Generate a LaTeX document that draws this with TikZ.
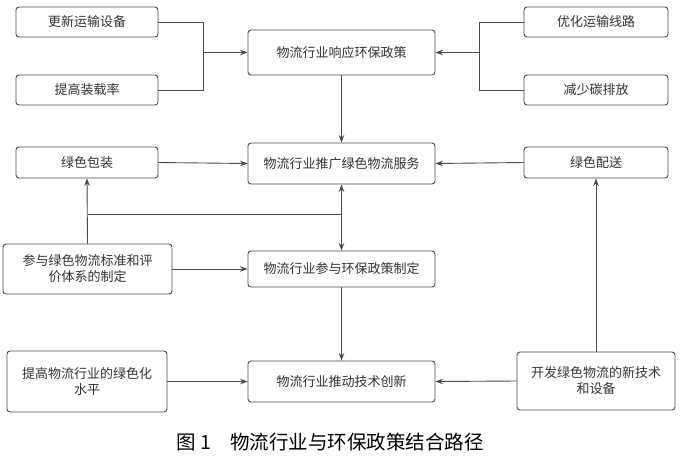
\documentclass[tikz,border=0pt]{standalone}
\usepackage{fontspec}
\setmainfont{Noto Sans CJK SC}
\usetikzlibrary{arrows.meta}
\definecolor{boxline}{HTML}{4A4A4A}
\definecolor{boxtext}{HTML}{333333}
\begin{document}
\begin{tikzpicture}[x=1pt,y=-1pt,
    stagebox/.style={draw=boxline,line width=0.9pt,rounded corners=3pt,
      fill=white,text=boxtext,align=center,inner sep=0pt,
      font=\fontsize{13}{16}\selectfont},
    link/.style={draw=boxline,line width=0.9pt,
      -{Stealth[length=7.5pt,width=5.5pt]}}]
      \useasboundingbox (0,0) rectangle (700,456);
      % top row
      \node[stagebox,minimum width=142pt,minimum height=30pt] (renew) at (87,22) {更新运输设备};
      \node[stagebox,minimum width=142pt,minimum height=30pt] (load) at (87,90) {提高装载率};
      \node[stagebox,minimum width=187pt,minimum height=45pt] (respond) at (341.5,52.5) {物流行业响应环保政策};
      \node[stagebox,minimum width=144pt,minimum height=30pt] (route) at (596,22) {优化运输线路};
      \node[stagebox,minimum width=144pt,minimum height=30pt] (carbon) at (596,90) {减少碳排放};
      % second row
      \node[stagebox,minimum width=142pt,minimum height=31pt] (pack) at (87,162.5) {绿色包装};
      \node[stagebox,minimum width=187pt,minimum height=41pt] (service) at (341.5,163.5) {物流行业推广绿色物流服务};
      \node[stagebox,minimum width=144pt,minimum height=31pt] (deliver) at (596,162.5) {绿色配送};
      % third row
      \node[stagebox,minimum width=169pt,minimum height=50pt] (standard) at (87.5,269) {参与绿色物流标准和评\\价体系的制定};
      \node[stagebox,minimum width=187pt,minimum height=36pt] (policy) at (341.5,269) {物流行业参与环保政策制定};
      % bottom row
      \node[stagebox,minimum width=160pt,minimum height=61pt] (level) at (87,381.5) {提高物流行业的绿色化\\水平};
      \node[stagebox,minimum width=187pt,minimum height=41pt] (innovate) at (341.5,381.5) {物流行业推动技术创新};
      \node[stagebox,minimum width=158pt,minimum height=58pt] (develop) at (596,381) {开发绿色物流的新技术\\和设备};
      \node[font=\fontsize{19.5}{22}\selectfont,text=black] (caption) at (330,442) {图 1　物流行业与环保政策结合路径};
      \coordinate (jleft) at (203,52.5);
      \coordinate (jright) at (479,52.5);
      \coordinate (jmid) at (341.5,214);
      \begin{scope}[draw=boxline,line width=0.9pt]
        \draw (renew.east) -| (jleft);
        \draw (load.east) -| (jleft);
        \draw[link] (jleft) -- (respond.west);
        \draw (route.west) -| (jright);
        \draw (carbon.west) -| (jright);
        \draw[link] (jright) -- (respond.east);
        \draw[link] (respond.south) -- (service.north);
        \draw[link] (pack.east) -- (service.west);
        \draw[link] (deliver.west) -- (service.east);
        \draw[link] (standard.north) -- (pack.south);
        \draw (standard.north |- jmid) -- (jmid);
        \draw[link] (jmid) -- (service.south);
        \draw[link] (jmid) -- (policy.north);
        \draw[link] (standard.east) -- (policy.west);
        \draw[link] (policy.south) -- (innovate.north);
        \draw[link] (level.east) -- (innovate.west);
        \draw[link] (develop.west) -- (innovate.east);
        \draw[link] (develop.north) -- (deliver.south);
      \end{scope}
    \end{tikzpicture}
\end{document}
